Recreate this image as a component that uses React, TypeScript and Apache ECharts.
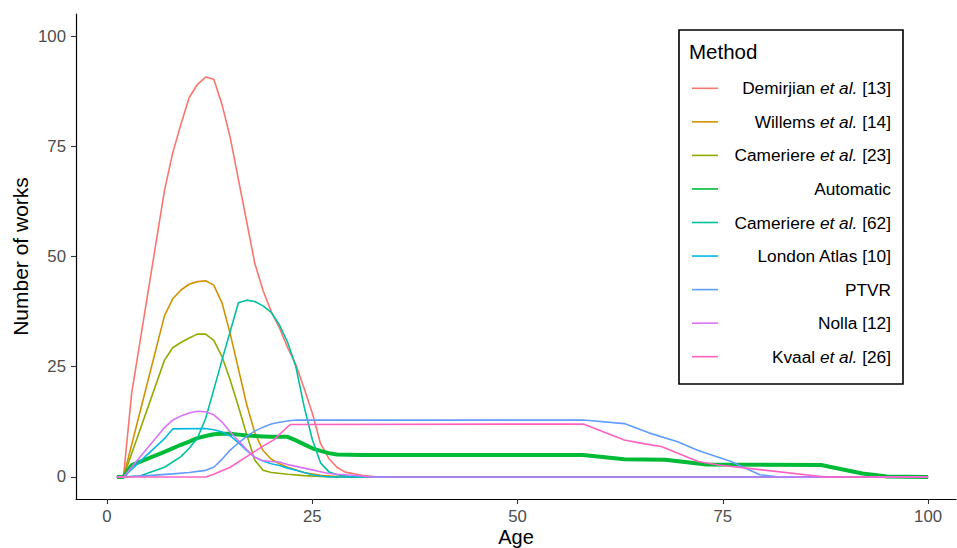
import React, { useEffect, useRef } from "react";
import * as echarts from "echarts";

// ---- data (age, number of works) ----
const methodNames = [
  "Demirjian et al. [13]",
  "Willems et al. [14]",
  "Cameriere et al. [23]",
  "Automatic",
  "Cameriere et al. [62]",
  "London Atlas [10]",
  "PTVR",
  "Nolla [12]",
  "Kvaal et al. [26]",
];

const methodColors = [
  "#F8766D", "#D39200", "#93AA00", "#00BA38", "#00C19F",
  "#00B9E3", "#619CFF", "#DB72FB", "#FF61C3",
];

const demirjian = [[1.2,0],[2,0],[3,19],[7,65],[8,73.5],[9,80],[10,86],[11,89],[12,90.7],[13,90.2],[14,84.5],[15,77],[16,67.5],[17,58],[18,48.4],[19,42.3],[20,37.5],[21,33.8],[22,29.3],[23,25.5],[24,20.1],[25,14.5],[26,7.6],[27,4.2],[28,2.2],[29,1.1],[31,0.4],[33,0],[100,0]];
const willems = [[1.2,0],[2,0],[7,36.6],[8,40.4],[9,42.4],[10,43.7],[11,44.3],[12,44.5],[13,43.5],[14,39.5],[15,32.5],[16,24.5],[17,16.5],[18,10],[19,6],[20,4],[21,3],[22,2.2],[24,1],[26,0.4],[28,0.1],[30,0],[100,0]];
const cameriere23 = [[1.2,0],[2,0],[7,26.5],[8,29.3],[9,30.5],[10,31.5],[11,32.4],[12,32.4],[13,31],[14,27.3],[15,22],[16,16],[17,9.7],[18,3.8],[19,1.5],[20,1],[22,0.6],[24,0.3],[26,0.1],[28,0],[100,0]];
const automatic = [[1.2,0],[2,0],[3,2.7],[7,5.7],[9,7.3],[10,8],[11,8.8],[12,9.3],[13,9.7],[14,9.8],[15,9.8],[16,9.6],[17,9.4],[18,9.3],[19,9.2],[20,9.1],[22,9.1],[23,8.3],[24,7.4],[25,6.5],[26,5.9],[27,5.4],[28,5.1],[31,5],[58,5],[63,4],[68,3.9],[73,2.8],[87,2.7],[88,2.3],[92,0.8],[95,0.1],[100,0]];
const cameriere62 = [[1.2,0],[2,0],[4,0.2],[7,2.2],[9,4.6],[10,6.5],[11,8.8],[12,13.2],[13,19.8],[14,26.5],[15,33],[16,39.5],[17,40.1],[18,39.8],[19,38.8],[20,37.3],[21,34.5],[22,30.5],[23,25],[24,16],[25,8.5],[26,3.2],[27,1.2],[28,0.5],[30,0],[100,0]];
const londonAtlas = [[1.2,0],[2,0],[7,8.7],[8,10.9],[12,11],[13,10.7],[14,10.2],[15,9.3],[16,7.8],[17,6],[18,4.5],[19,3.6],[20,3],[21,2.6],[22,2],[23,1.5],[24,1],[25,0.5],[26,0.2],[27,0],[100,0]];
const ptvr = [[1.2,0],[2,0],[5,0.3],[8,0.7],[10,1],[12,1.5],[13,2.2],[14,4],[15,6.1],[16,7.7],[17,9.2],[18,10.4],[19,11.3],[20,12],[21,12.4],[22,12.7],[23,12.9],[58,12.9],[63,12.1],[66,10],[69.5,8],[72,6],[76,3.5],[79.5,0.5],[82,0],[100,0]];
const nolla = [[1.2,0],[2,0],[7,11.2],[8,12.9],[9,13.8],[10,14.5],[11,14.9],[12,14.8],[13,14.1],[14,12.5],[15,10.2],[16,8.2],[17,6.2],[18,4.4],[19,3.7],[20,3.5],[21,3.4],[22,2.8],[23,2.4],[24,2],[25,1.6],[26,1.2],[27,0.8],[28,0.6],[30,0.4],[32,0],[100,0]];
const kvaal = [[1.2,0],[2,0],[12,0],[13,0.6],[15,2.2],[17,4.6],[19,7],[20.3,8.4],[22.3,11.9],[58,12],[63,8.4],[65.5,7.5],[67.5,6.9],[72,3.5],[74.5,2.7],[87.5,0],[100,0]];

const seriesData = [demirjian, willems, cameriere23, automatic, cameriere62, londonAtlas, ptvr, nolla, kvaal];

const xTicks = [0, 25, 50, 75, 100];
const yTicks = [0, 25, 50, 75, 100];

const FONT = "'Liberation Sans', Arial, Helvetica, sans-serif";

function richLabel(name: string): string {
  if (name.includes("et al.")) {
    const [a, b] = name.split("et al.");
    return `{n|${a}}{i|et al.}{n|${b}}`;
  }
  return `{n|${name}}`;
}

export default function App() {
  const ref = useRef<HTMLDivElement>(null);

  useEffect(() => {
    if (!ref.current) return;
    const chart = echarts.init(ref.current, undefined, { renderer: "svg" });

    const legendX = 679;
    const legendY = 30;
    const itemY0 = 88.3;
    const itemStep = 33.55;

    const legendGraphics: any[] = [
      {
        type: "rect",
        shape: { x: legendX, y: legendY, width: 224, height: 354 },
        style: { fill: "#fff", stroke: "#000", lineWidth: 1.6 },
        z: 100,
      },
      {
        type: "text",
        x: 689,
        y: 51,
        style: {
          text: "Method",
          fill: "#000",
          fontSize: 20.5,
          fontFamily: FONT,
          align: "left",
          verticalAlign: "middle",
        },
        z: 101,
      },
    ];
    methodNames.forEach((name, i) => {
      const yc = itemY0 + i * itemStep;
      legendGraphics.push({
        type: "line",
        shape: { x1: 692, y1: yc, x2: 718, y2: yc },
        style: { stroke: methodColors[i], lineWidth: 1.6 },
        z: 101,
      });
      legendGraphics.push({
        type: "text",
        x: 891,
        y: yc,
        style: {
          text: richLabel(name),
          align: "right",
          verticalAlign: "middle",
          rich: {
            n: { fontSize: 17.3, fontFamily: FONT, fill: "#000" },
            i: { fontSize: 17.3, fontFamily: FONT, fontStyle: "italic", fill: "#000" },
          },
        },
        z: 101,
      });
    });

    chart.setOption({
      animation: false,
      backgroundColor: "#fff",
      grid: { left: 76, right: 1, top: 14, bottom: 49, containLabel: false, outerBoundsMode: "none" },
      xAxis: {
        type: "value",
        min: -3.78,
        max: 103.4,
        name: "Age",
        nameLocation: "middle",
        nameGap: 38,
        nameMoveOverlap: false,
        nameTextStyle: { fontSize: 20, color: "#000", fontFamily: FONT, verticalAlign: "middle", lineHeight: 20 },
        axisLine: { show: true, onZero: false, lineStyle: { color: "#000", width: 1.2 } },
        axisTick: { show: true, customValues: xTicks, length: 5, lineStyle: { color: "#333", width: 1.1 } },
        axisLabel: { customValues: xTicks, fontSize: 16.8, color: "#4D4D4D", fontFamily: FONT, margin: 9 },
        splitLine: { show: false },
      },
      yAxis: {
        type: "value",
        min: -5,
        max: 105,
        name: "Number of works",
        nameLocation: "middle",
        nameGap: 45,
        nameMoveOverlap: false,
        nameRotate: 90,
        nameTextStyle: { fontSize: 21, color: "#000", fontFamily: FONT },
        axisLine: { show: true, onZero: false, lineStyle: { color: "#000", width: 1.2 } },
        axisTick: { show: true, customValues: yTicks, length: 5, lineStyle: { color: "#333", width: 1.1 } },
        axisLabel: { customValues: yTicks, fontSize: 16.8, color: "#4D4D4D", fontFamily: FONT, margin: 10 },
        splitLine: { show: false },
      },
      series: methodNames.map((name, i) => ({
        name,
        type: "line",
        data: seriesData[i],
        showSymbol: false,
        symbol: "none",
        smooth: false,
        lineStyle: { color: methodColors[i], width: name === "Automatic" ? 4 : 1.6 },
        itemStyle: { color: methodColors[i] },
        z: 2 + i,
      })),
      graphic: legendGraphics,
    });

    return () => chart.dispose();
  }, []);

  return (
    <div
      ref={ref}
      style={{ position: "fixed", left: 0, top: 0, width: 957, height: 548, background: "#fff" }}
    />
  );
}
